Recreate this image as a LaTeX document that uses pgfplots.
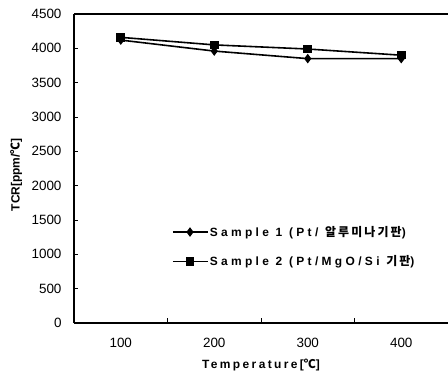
\documentclass[border=0pt]{standalone}
\usepackage{fontspec}
\setmainfont{Liberation Sans}
\newfontfamily\kr{Noto Sans CJK KR}
\newfontfamily\lsp[LetterSpace=20]{Liberation Sans}
\newfontfamily\lspl[LetterSpace=28]{Liberation Sans}
\newfontfamily\krsp[LetterSpace=18]{Noto Sans CJK KR}
\usepackage{pgfplots}
\pgfplotsset{compat=1.18}
\begin{document}
\begin{tikzpicture}[x=1bp,y=1bp]
\path[use as bounding box] (0,0) rectangle (448,374);
\begin{axis}[
  at={(74bp,51bp)}, anchor=south west,
  width=374bp, height=309bp, scale only axis,
  xmin=-0.5, xmax=3.5, ymin=0, ymax=4500,
  axis x line*=bottom, axis y line*=left,
  axis line style={line width=1.6pt, -},
  xtick={0,1,2,3}, xticklabels={100,200,300,400},
  minor xtick={0.5,1.5,2.5},
  ytick={0,500,...,4500},
  tick align=inside,
  major x tick style={draw=none},
  major tick length=4bp, minor tick length=5bp,
  tick style={line width=1pt, black},
  /pgf/number format/assume math mode=true,
  /pgf/number format/1000 sep={},
  tick label style={font=\fontsize{13.5}{13.5}\selectfont},
  yticklabel style={xshift=-9bp},
  xticklabel style={yshift=-12bp},
  xlabel={\fontsize{12}{12}\selectfont\bfseries\lsp Temperature[{\kr\bfseries ℃}]},
  ylabel={\fontsize{12}{12}\selectfont\bfseries TCR[ppm/{\kr\bfseries ℃}]},
  every axis x label/.style={at={(axis description cs:0.5,-0.136)}, anchor=center},
  every axis y label/.style={at={(axis description cs:-0.155,0.48)}, rotate=90, anchor=center},
  legend style={draw=none, fill=none, at={(axis description cs:0.262,0.317)}, anchor=north west,
    font=\fontsize{12}{12}\selectfont\bfseries, row sep=16bp, inner sep=0pt, nodes={inner sep=1pt}},
  legend cell align=left,
  legend image code/.code={\draw[#1] (0bp,0bp) -- (35bp,0bp); \path[#1] plot coordinates {(17bp,0bp)};},
  clip=false,
]
\draw[line width=1.6pt] (rel axis cs:0,1) -- (rel axis cs:1,1);
\addplot[black, line width=1.6pt, mark=diamond*, mark size=3.5bp] coordinates {(0,4120) (1,3960) (2,3850) (3,3850)};
\addlegendentry{\lspl\bfseries Sample 1 (Pt/ {\krsp\bfseries 알루미나기판})}
\addplot[black, line width=1.6pt, mark=square*, mark size=3.5bp] coordinates {(0,4160) (1,4050) (2,3990) (3,3900)};
\addlegendentry{\lspl\bfseries Sample 2 (Pt/MgO/Si {\krsp\bfseries 기판})}
\end{axis}
\end{tikzpicture}
\end{document}
